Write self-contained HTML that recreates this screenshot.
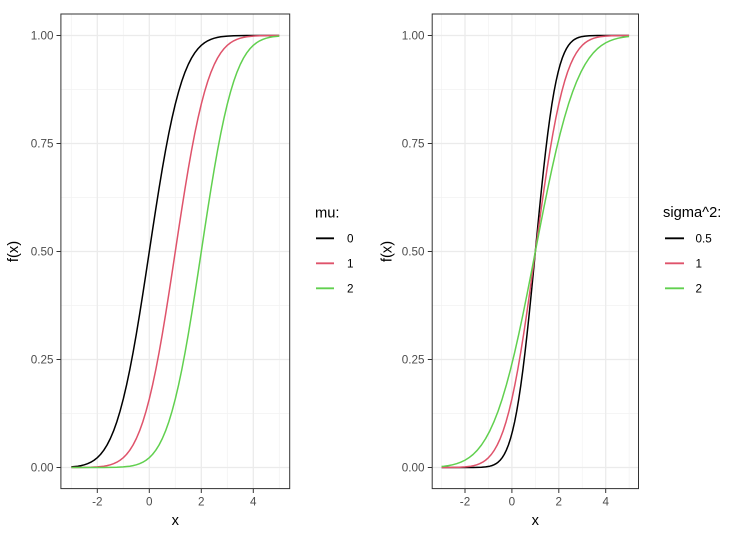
<!DOCTYPE html>
<html><head><meta charset="utf-8"><style>
html,body{margin:0;padding:0;background:#fff;}
svg{display:block;}
text{font-family:"Liberation Sans",Arial,sans-serif;}
.tk{font-size:11.7px;fill:#4D4D4D;}
.ttl{font-size:14.7px;fill:#000;}
.gmaj{stroke:#EBEBEB;stroke-width:1.3;}
.gmin{stroke:#F2F2F2;stroke-width:0.7;}
</style></head><body>
<svg width="734" height="533" viewBox="0 0 734 533" xmlns="http://www.w3.org/2000/svg">
<defs>
<clipPath id="cl"><rect x="71.3" y="0" width="208" height="533"/></clipPath>
<clipPath id="cr"><rect x="441.5" y="0" width="187.7" height="533"/></clipPath>
</defs>

<!-- LEFT PANEL -->
<rect x="60.9" y="14" width="228.8" height="474.6" fill="#fff"/>
<g class="gmin">
<line x1="60.9" x2="289.7" y1="413.5" y2="413.5"/><line x1="60.9" x2="289.7" y1="305.5" y2="305.5"/><line x1="60.9" x2="289.7" y1="197.5" y2="197.5"/><line x1="60.9" x2="289.7" y1="89.5" y2="89.5"/>
<line x1="71.3" x2="71.3" y1="14" y2="488.6"/><line x1="123.3" x2="123.3" y1="14" y2="488.6"/><line x1="175.3" x2="175.3" y1="14" y2="488.6"/><line x1="227.3" x2="227.3" y1="14" y2="488.6"/><line x1="279.3" x2="279.3" y1="14" y2="488.6"/>
</g>
<g class="gmaj">
<line x1="60.9" x2="289.7" y1="467.5" y2="467.5"/><line x1="60.9" x2="289.7" y1="359.5" y2="359.5"/><line x1="60.9" x2="289.7" y1="251.5" y2="251.5"/><line x1="60.9" x2="289.7" y1="143.5" y2="143.5"/><line x1="60.9" x2="289.7" y1="35.5" y2="35.5"/>
<line x1="97.3" x2="97.3" y1="14" y2="488.6"/><line x1="149.3" x2="149.3" y1="14" y2="488.6"/><line x1="201.3" x2="201.3" y1="14" y2="488.6"/><line x1="253.3" x2="253.3" y1="14" y2="488.6"/>
</g>
<g clip-path="url(#cl)">
<g fill="none" stroke-width="1.5" stroke-linejoin="round">
<path id="c0" stroke="#000000" fill="none" d="M19.3,467.5 L32.3,467.5 L45.3,467.49 L51.8,467.46 L58.3,467.4 L64.8,467.25 L71.3,466.92 L77.8,466.21 L81.05,465.63 L84.3,464.82 L87.55,463.71 L90.8,462.22 L94.05,460.25 L97.3,457.67 L100.55,454.37 L103.8,450.19 L107.05,445 L110.3,438.64 L113.55,430.97 L116.8,421.86 L120.05,411.21 L123.3,398.96 L126.55,385.08 L129.8,369.6 L133.05,352.59 L136.3,334.21 L139.55,314.65 L142.8,294.14 L146.05,272.99 L149.3,251.5 L152.55,230.01 L155.8,208.86 L159.05,188.35 L162.3,168.79 L165.55,150.41 L168.8,133.4 L172.05,117.92 L175.3,104.04 L178.55,91.79 L181.8,81.14 L185.05,72.03 L188.3,64.36 L191.55,58 L194.8,52.81 L198.05,48.63 L201.3,45.33 L204.55,42.75 L207.8,40.78 L211.05,39.29 L214.3,38.18 L217.55,37.37 L220.8,36.79 L227.3,36.08 L233.8,35.75 L240.3,35.6 L246.8,35.54 L253.3,35.51 L266.3,35.5 L279.3,35.5"/>
<g transform="translate(26,0)"><path stroke="#DF536B" fill="none" d="M19.3,467.5 L32.3,467.5 L45.3,467.49 L51.8,467.46 L58.3,467.4 L64.8,467.25 L71.3,466.92 L77.8,466.21 L81.05,465.63 L84.3,464.82 L87.55,463.71 L90.8,462.22 L94.05,460.25 L97.3,457.67 L100.55,454.37 L103.8,450.19 L107.05,445 L110.3,438.64 L113.55,430.97 L116.8,421.86 L120.05,411.21 L123.3,398.96 L126.55,385.08 L129.8,369.6 L133.05,352.59 L136.3,334.21 L139.55,314.65 L142.8,294.14 L146.05,272.99 L149.3,251.5 L152.55,230.01 L155.8,208.86 L159.05,188.35 L162.3,168.79 L165.55,150.41 L168.8,133.4 L172.05,117.92 L175.3,104.04 L178.55,91.79 L181.8,81.14 L185.05,72.03 L188.3,64.36 L191.55,58 L194.8,52.81 L198.05,48.63 L201.3,45.33 L204.55,42.75 L207.8,40.78 L211.05,39.29 L214.3,38.18 L217.55,37.37 L220.8,36.79 L227.3,36.08 L233.8,35.75 L240.3,35.6 L246.8,35.54 L253.3,35.51 L266.3,35.5 L279.3,35.5"/></g>
<g transform="translate(52,0)"><path stroke="#61D04F" fill="none" d="M19.3,467.5 L32.3,467.5 L45.3,467.49 L51.8,467.46 L58.3,467.4 L64.8,467.25 L71.3,466.92 L77.8,466.21 L81.05,465.63 L84.3,464.82 L87.55,463.71 L90.8,462.22 L94.05,460.25 L97.3,457.67 L100.55,454.37 L103.8,450.19 L107.05,445 L110.3,438.64 L113.55,430.97 L116.8,421.86 L120.05,411.21 L123.3,398.96 L126.55,385.08 L129.8,369.6 L133.05,352.59 L136.3,334.21 L139.55,314.65 L142.8,294.14 L146.05,272.99 L149.3,251.5 L152.55,230.01 L155.8,208.86 L159.05,188.35 L162.3,168.79 L165.55,150.41 L168.8,133.4 L172.05,117.92 L175.3,104.04 L178.55,91.79 L181.8,81.14 L185.05,72.03 L188.3,64.36 L191.55,58 L194.8,52.81 L198.05,48.63 L201.3,45.33 L204.55,42.75 L207.8,40.78 L211.05,39.29 L214.3,38.18 L217.55,37.37 L220.8,36.79 L227.3,36.08 L233.8,35.75 L240.3,35.6 L246.8,35.54 L253.3,35.51 L266.3,35.5 L279.3,35.5"/></g>
</g>
</g>
<rect x="60.9" y="14" width="228.8" height="474.6" fill="none" stroke="#333333" stroke-width="1"/>
<g stroke="#333333" stroke-width="1">
<line x1="56.5" x2="60.9" y1="467.5" y2="467.5"/><line x1="56.5" x2="60.9" y1="359.5" y2="359.5"/><line x1="56.5" x2="60.9" y1="251.5" y2="251.5"/><line x1="56.5" x2="60.9" y1="143.5" y2="143.5"/><line x1="56.5" x2="60.9" y1="35.5" y2="35.5"/>
<line x1="97.3" x2="97.3" y1="488.6" y2="493"/><line x1="149.3" x2="149.3" y1="488.6" y2="493"/><line x1="201.3" x2="201.3" y1="488.6" y2="493"/><line x1="253.3" x2="253.3" y1="488.6" y2="493"/>
</g>
<g class="tk" text-anchor="end">
<text x="53.5" y="471.7">0.00</text><text x="53.5" y="363.7">0.25</text><text x="53.5" y="255.7">0.50</text><text x="53.5" y="147.7">0.75</text><text x="53.5" y="39.7">1.00</text>
</g>
<g class="tk" text-anchor="middle">
<text x="97.3" y="505.7">-2</text><text x="149.3" y="505.7">0</text><text x="201.3" y="505.7">2</text><text x="253.3" y="505.7">4</text>
</g>
<text class="ttl" x="175.3" y="525" text-anchor="middle">x</text>
<text class="ttl" transform="translate(18,251.5) rotate(-90)" text-anchor="middle">f(x)</text>

<!-- LEFT LEGEND -->
<text class="ttl" x="315" y="217.5">mu:</text>
<line x1="316" x2="334" y1="238.3" y2="238.3" stroke="#000000" stroke-width="1.8"/>
<line x1="316" x2="334" y1="263.3" y2="263.3" stroke="#DF536B" stroke-width="1.8"/>
<line x1="316" x2="334" y1="288.3" y2="288.3" stroke="#61D04F" stroke-width="1.8"/>
<g class="tk" style="fill:#000">
<text x="347" y="242.5">0</text><text x="347" y="267.5">1</text><text x="347" y="292.5">2</text>
</g>

<!-- RIGHT PANEL -->
<rect x="432.2" y="14" width="206.3" height="474.6" fill="#fff"/>
<g class="gmin">
<line x1="432.2" x2="638.5" y1="413.5" y2="413.5"/><line x1="432.2" x2="638.5" y1="305.5" y2="305.5"/><line x1="432.2" x2="638.5" y1="197.5" y2="197.5"/><line x1="432.2" x2="638.5" y1="89.5" y2="89.5"/>
<line x1="441.55" x2="441.55" y1="14" y2="488.6"/><line x1="488.45" x2="488.45" y1="14" y2="488.6"/><line x1="535.35" x2="535.35" y1="14" y2="488.6"/><line x1="582.25" x2="582.25" y1="14" y2="488.6"/><line x1="629.15" x2="629.15" y1="14" y2="488.6"/>
</g>
<g class="gmaj">
<line x1="432.2" x2="638.5" y1="467.5" y2="467.5"/><line x1="432.2" x2="638.5" y1="359.5" y2="359.5"/><line x1="432.2" x2="638.5" y1="251.5" y2="251.5"/><line x1="432.2" x2="638.5" y1="143.5" y2="143.5"/><line x1="432.2" x2="638.5" y1="35.5" y2="35.5"/>
<line x1="465" x2="465" y1="14" y2="488.6"/><line x1="511.9" x2="511.9" y1="14" y2="488.6"/><line x1="558.8" x2="558.8" y1="14" y2="488.6"/><line x1="605.7" x2="605.7" y1="14" y2="488.6"/>
</g>
<g clip-path="url(#cr)">
<g fill="none" stroke-width="1.5" stroke-linejoin="round">
<path stroke="#000000" fill="none" d="M441.55,467.5 L452.45,467.5 L460.74,467.5 L469.03,467.49 L473.18,467.46 L477.32,467.4 L481.47,467.25 L485.61,466.92 L489.76,466.21 L491.83,465.63 L493.9,464.82 L495.97,463.71 L498.05,462.22 L500.12,460.25 L502.19,457.67 L504.26,454.37 L506.33,450.19 L508.41,445 L510.48,438.64 L512.55,430.97 L514.63,421.86 L516.7,411.21 L518.77,398.96 L520.84,385.08 L522.92,369.6 L524.99,352.59 L527.06,334.21 L529.13,314.65 L531.21,294.14 L533.28,272.99 L535.35,251.5 L537.42,230.01 L539.5,208.86 L541.57,188.35 L543.64,168.79 L545.71,150.41 L547.79,133.4 L549.86,117.92 L551.93,104.04 L554,91.79 L556.08,81.14 L558.15,72.03 L560.22,64.36 L562.29,58 L564.37,52.81 L566.44,48.63 L568.51,45.33 L570.58,42.75 L572.66,40.78 L574.73,39.29 L576.8,38.18 L578.87,37.37 L580.95,36.79 L585.09,36.08 L589.24,35.75 L593.38,35.6 L597.53,35.54 L601.67,35.51 L609.96,35.5 L618.25,35.5 L629.15,35.5"/>
<path stroke="#DF536B" fill="none" d="M441.55,467.49 L447.41,467.46 L453.28,467.4 L459.14,467.25 L465,466.92 L470.86,466.21 L473.79,465.63 L476.73,464.82 L479.66,463.71 L482.59,462.22 L485.52,460.25 L488.45,457.67 L491.38,454.37 L494.31,450.19 L497.24,445 L500.18,438.64 L503.11,430.97 L506.04,421.86 L508.97,411.21 L511.9,398.96 L514.83,385.08 L517.76,369.6 L520.69,352.59 L523.63,334.21 L526.56,314.65 L529.49,294.14 L532.42,272.99 L535.35,251.5 L538.28,230.01 L541.21,208.86 L544.14,188.35 L547.08,168.79 L550.01,150.41 L552.94,133.4 L555.87,117.92 L558.8,104.04 L561.73,91.79 L564.66,81.14 L567.59,72.03 L570.53,64.36 L573.46,58 L576.39,52.81 L579.32,48.63 L582.25,45.33 L585.18,42.75 L588.11,40.78 L591.04,39.29 L593.98,38.18 L596.91,37.37 L599.84,36.79 L605.7,36.08 L611.56,35.75 L617.43,35.6 L623.29,35.54 L629.15,35.51"/>
<path stroke="#61D04F" fill="none" d="M441.57,466.49 L444.16,466.21 L448.31,465.63 L452.45,464.82 L456.6,463.71 L460.74,462.22 L464.89,460.25 L469.03,457.67 L473.18,454.37 L477.32,450.19 L481.47,445 L485.61,438.64 L489.76,430.97 L493.9,421.86 L498.05,411.21 L502.19,398.96 L506.33,385.08 L510.48,369.6 L514.63,352.59 L518.77,334.21 L522.92,314.65 L527.06,294.14 L531.21,272.99 L535.35,251.5 L539.5,230.01 L543.64,208.86 L547.79,188.35 L551.93,168.79 L556.08,150.41 L560.22,133.4 L564.37,117.92 L568.51,104.04 L572.66,91.79 L576.8,81.14 L580.95,72.03 L585.09,64.36 L589.24,58 L593.38,52.81 L597.53,48.63 L601.67,45.33 L605.82,42.75 L609.96,40.78 L614.11,39.29 L618.25,38.18 L622.4,37.37 L626.54,36.79 L629.13,36.51"/>
</g>
</g>
<rect x="432.2" y="14" width="206.3" height="474.6" fill="none" stroke="#333333" stroke-width="1"/>
<g stroke="#333333" stroke-width="1">
<line x1="427.8" x2="432.2" y1="467.5" y2="467.5"/><line x1="427.8" x2="432.2" y1="359.5" y2="359.5"/><line x1="427.8" x2="432.2" y1="251.5" y2="251.5"/><line x1="427.8" x2="432.2" y1="143.5" y2="143.5"/><line x1="427.8" x2="432.2" y1="35.5" y2="35.5"/>
<line x1="465" x2="465" y1="488.6" y2="493"/><line x1="511.9" x2="511.9" y1="488.6" y2="493"/><line x1="558.8" x2="558.8" y1="488.6" y2="493"/><line x1="605.7" x2="605.7" y1="488.6" y2="493"/>
</g>
<g class="tk" text-anchor="end">
<text x="424.5" y="471.7">0.00</text><text x="424.5" y="363.7">0.25</text><text x="424.5" y="255.7">0.50</text><text x="424.5" y="147.7">0.75</text><text x="424.5" y="39.7">1.00</text>
</g>
<g class="tk" text-anchor="middle">
<text x="465" y="505.7">-2</text><text x="511.9" y="505.7">0</text><text x="558.8" y="505.7">2</text><text x="605.7" y="505.7">4</text>
</g>
<text class="ttl" x="535.3" y="525" text-anchor="middle">x</text>
<text class="ttl" transform="translate(391.5,251.5) rotate(-90)" text-anchor="middle">f(x)</text>

<!-- RIGHT LEGEND -->
<text class="ttl" x="663" y="217">sigma^2:</text>
<line x1="665" x2="684" y1="238.3" y2="238.3" stroke="#000000" stroke-width="1.8"/>
<line x1="665" x2="684" y1="263.3" y2="263.3" stroke="#DF536B" stroke-width="1.8"/>
<line x1="665" x2="684" y1="288.3" y2="288.3" stroke="#61D04F" stroke-width="1.8"/>
<g class="tk" style="fill:#000">
<text x="695.5" y="242.5">0.5</text><text x="695.5" y="267.5">1</text><text x="695.5" y="292.5">2</text>
</g>
</svg>
</body></html>
